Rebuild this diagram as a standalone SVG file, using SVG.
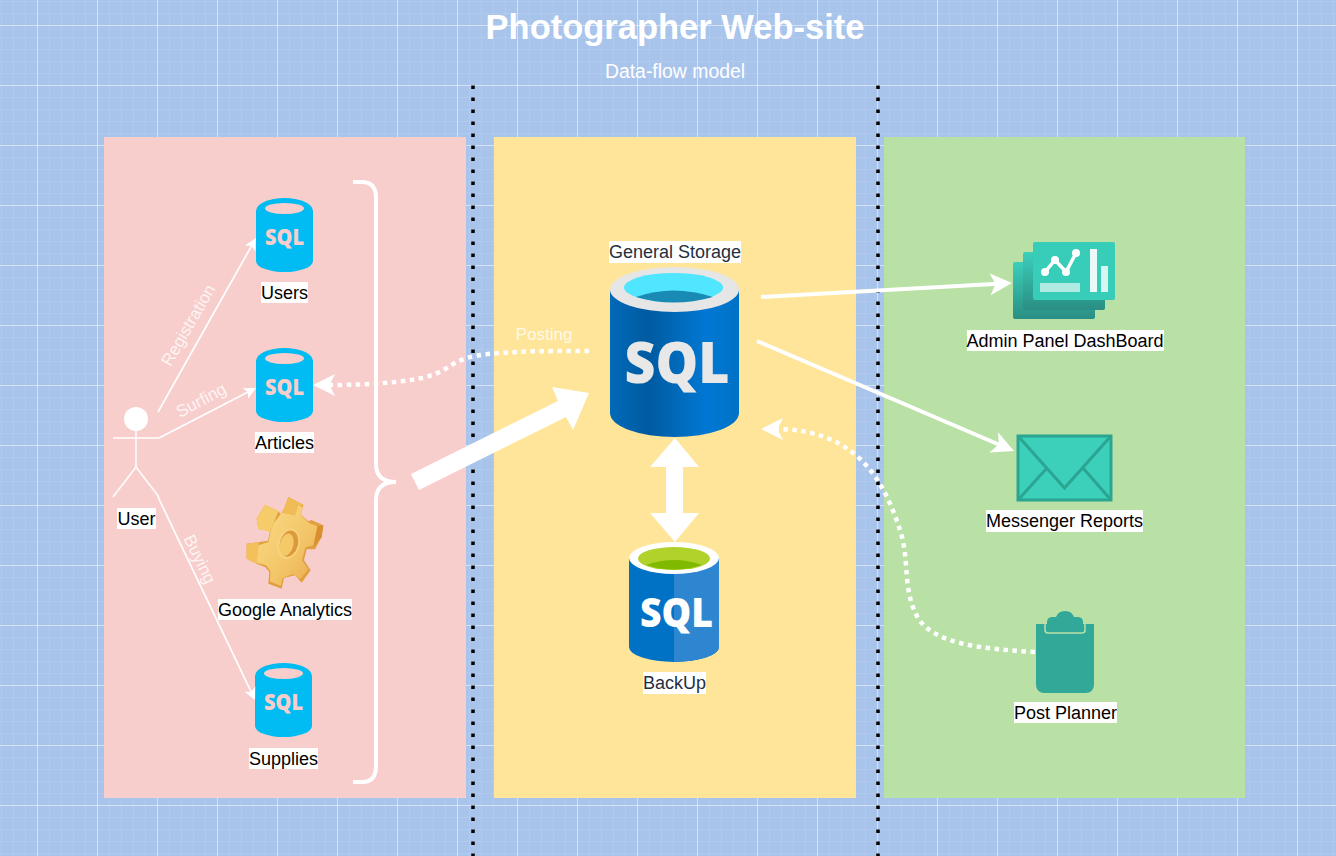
<svg xmlns="http://www.w3.org/2000/svg" xmlns:xlink="http://www.w3.org/1999/xlink" width="1336" height="856" viewBox="0 0 1336 856">
<style>
text{font-family:"Liberation Sans",Arial,sans-serif}
.lbl{font-size:18px;text-anchor:middle;fill:#000}
.dk{fill:#232F3E}
.bg{fill:#fff}
.flow{font-size:17px;text-anchor:middle;fill:#fff;fill-opacity:.8}
.sql{font-family:"Open Sans",sans-serif;font-weight:800;text-anchor:middle}
.thin{fill:none;stroke:#fff;stroke-width:1.700}
.thick{fill:none;stroke:#fff;stroke-width:4}
.dot{stroke-width:4.500;stroke-dasharray:4.500 4.500}
.sep{fill:none;stroke:#000;stroke-width:3.500;stroke-dasharray:3.500 8.500}
</style>
<defs>
<pattern id="grid" x="37" y="25" width="60" height="60" patternUnits="userSpaceOnUse">
<g fill="#fff" fill-opacity=".09">
<rect x="12" width="1" height="60"/><rect x="24" width="1" height="60"/><rect x="36" width="1" height="60"/><rect x="48" width="1" height="60"/>
<rect y="12" width="60" height="1"/><rect y="24" width="60" height="1"/><rect y="36" width="60" height="1"/><rect y="48" width="60" height="1"/>
</g>
<g fill="#fff" fill-opacity=".5"><rect width="1" height="60"/><rect width="60" height="1"/></g>
</pattern>
<marker id="head" markerUnits="userSpaceOnUse" markerWidth="24" markerHeight="24" refX="8" refY="12" orient="auto" overflow="visible">
<path d="M22 12 L0 1 L5.500 12 L0 23 Z" fill="#fff"/>
</marker>
<marker id="headThin" markerUnits="userSpaceOnUse" markerWidth="14" markerHeight="14" refX="8" refY="7" orient="auto" overflow="visible">
<path d="M12 7 L0 1 L3 7 L0 13 Z" fill="#fff"/>
</marker>
<linearGradient id="bigBody" x1="0" x2="1" y1="0" y2="0">
<stop offset="0" stop-color="#0069B8"/><stop offset=".3" stop-color="#005BA1"/><stop offset=".75" stop-color="#0078D4"/><stop offset="1" stop-color="#0072C6"/>
</linearGradient>
<linearGradient id="dashGrad" x1="0" x2="0" y1="0" y2="1">
<stop offset="0" stop-color="#3CCFBA"/><stop offset="1" stop-color="#2A8E84"/>
</linearGradient>
<linearGradient id="gearFace" x1="0" x2="1" y1="0" y2="1">
<stop offset="0" stop-color="#FBDC85"/><stop offset=".6" stop-color="#F3C568"/><stop offset="1" stop-color="#E7A94C"/>
</linearGradient>
<g id="smallDb">
<path d="M0 13 V63 A28.500 11 0 0 0 57 63 V13 Z" fill="#00BCF2"/>
<ellipse cx="28.500" cy="13" rx="28.500" ry="13" fill="#00BCF2"/>
<ellipse cx="28.500" cy="10.500" rx="19.500" ry="5.500" fill="#F8CECC"/>
<text class="sql" x="28.500" y="47" font-size="22" fill="#F8CECC" textLength="39" lengthAdjust="spacingAndGlyphs">SQL</text>
</g>
</defs>

<rect id="background" width="1336" height="856" fill="#A9C4EB"/>
<rect id="gridLines" width="1336" height="856" fill="url(#grid)"/>

<g id="panels">
<rect x="104" y="137" width="362" height="661" fill="#F8CECC"/>
<rect x="494" y="137" width="362" height="661" fill="#FFE599"/>
<rect x="884" y="137" width="361" height="661" fill="#B9E0A5"/>
</g>

<g id="separators">
<line class="sep" x1="473" y1="85.500" x2="473" y2="856"/>
<line class="sep" x1="878" y1="85.500" x2="878" y2="856"/>
</g>

<g id="titles">
<text x="675" y="39" font-size="34.500" font-weight="700" fill="#fff" text-anchor="middle">Photographer Web-site</text>
<text x="675" y="78" font-size="19.400" fill="#fff" text-anchor="middle">Data-flow model</text>
</g>

<g id="node-user">
<circle cx="136" cy="419" r="12" fill="#fff"/>
<path d="M136 431 V467 M113 438 H159 M113 497 L136 467 L159 497" fill="none" stroke="#fff" stroke-width="1.500"/>
<rect class="bg" x="117" y="508" width="39" height="21"/>
<text class="lbl" x="136.500" y="525">User</text>
</g>

<g id="node-users">
<use xlink:href="#smallDb" href="#smallDb" x="256" y="198"/>
<rect class="bg" x="261" y="282" width="47" height="21"/>
<text class="lbl" x="284.500" y="299">Users</text>
</g>

<g id="node-articles">
<use xlink:href="#smallDb" href="#smallDb" x="256" y="348"/>
<rect class="bg" x="255" y="432" width="59" height="21"/>
<text class="lbl" x="284.500" y="449">Articles</text>
</g>

<g id="node-analytics">
<g transform="translate(240,492) scale(.3333)">
<polygon points="75,38 115,58 122,66 132,50 145,15 190,38 183,68 205,88 214,84 250,100 245,135 225,172 200,172 192,205 212,235 185,272 165,250 132,258 125,290 85,275 88,240 76,226 50,215 20,200 20,155 58,150 84,146 90,118 55,110 50,80" fill="#E0A040"/>
<polygon points="75,38 115,58 100,95 90,120 55,110 50,80" fill="#F6CC6A"/>
<polygon points="145,15 190,38 175,45 165,70 125,62 132,50" fill="#F0BC55"/>
<polygon points="20,155 58,150 55,160 50,215 20,200" fill="#F3C05A"/>
<polygon points="232,103 250,100 245,135 220,165" fill="#D98F30"/>
<polygon points="100,95 125,62 165,70 175,40 188,45 183,70 208,94 232,103 220,160 196,166 186,205 205,232 180,262 160,246 128,258 122,282 90,268 92,238 78,220 50,212 55,160 85,150 92,118" fill="url(#gearFace)"/>
<ellipse cx="145" cy="155" rx="34" ry="47" fill="#F7D27C" transform="rotate(14 145 155)"/>
<ellipse cx="147" cy="155" rx="27" ry="40" fill="#DD9A3A" transform="rotate(14 147 155)"/>
<ellipse cx="140" cy="158" rx="20" ry="34" fill="#F5C868" transform="rotate(14 140 158)"/>
</g>
<rect class="bg" x="218" y="599" width="134" height="21"/>
<text class="lbl" x="285" y="616">Google Analytics</text>
</g>

<g id="node-supplies">
<use xlink:href="#smallDb" href="#smallDb" x="255" y="663"/>
<rect class="bg" x="249" y="748" width="69" height="21"/>
<text class="lbl" x="283.500" y="765">Supplies</text>
</g>

<g id="node-general-storage">
<rect class="bg" x="609" y="241" width="132" height="22"/>
<text class="lbl dk" x="675" y="258">General Storage</text>
<path d="M610 290 V413 A64.500 24 0 0 0 739 413 V290 Z" fill="url(#bigBody)"/>
<ellipse cx="674.500" cy="289.500" rx="64.500" ry="22.500" fill="#E6E6E6"/>
<ellipse cx="673.500" cy="287.500" rx="49.500" ry="14.500" fill="#50E6FF"/>
<path d="M636 297 Q673 284 713 297 Q673 308 636 297 Z" fill="#198AB3"/>
<text class="sql" x="677" y="383" font-size="57" fill="#E8E8E8" textLength="105" lengthAdjust="spacingAndGlyphs">SQL</text>
</g>

<g id="node-backup">
<path d="M629 558 V647 A45 15 0 0 0 719 647 V558 Z" fill="#0072C6"/>
<path d="M674 574 A45 16 0 0 0 719 558 V647 A45 15 0 0 1 674 662 Z" fill="#2E86D0"/>
<ellipse cx="674" cy="558" rx="45" ry="16" fill="#fff"/>
<ellipse cx="674" cy="558.500" rx="36" ry="11.500" fill="#B0D22A"/>
<path d="M646 565 Q674 555 702 565 Q674 574 646 565 Z" fill="#7FBA00"/>
<text class="sql" x="676.500" y="627" font-size="41" fill="#fff" textLength="73" lengthAdjust="spacingAndGlyphs">SQL</text>
<rect class="bg" x="643" y="672" width="63" height="22"/>
<text class="lbl dk" x="674.500" y="689">BackUp</text>
</g>

<g id="node-dashboard">
<rect x="1013" y="262" width="82" height="57" rx="2" fill="url(#dashGrad)"/>
<rect x="1023" y="252" width="82" height="58" rx="2" fill="url(#dashGrad)"/>
<rect x="1033" y="242" width="82" height="58" rx="2" fill="#37CDB8"/>
<polyline points="1045,272 1055,260 1066,272 1076,253" fill="none" stroke="#fff" stroke-width="3.500"/>
<g fill="#fff"><circle cx="1045" cy="272" r="4"/><circle cx="1055" cy="260" r="4"/><circle cx="1066" cy="272" r="4"/><circle cx="1076" cy="253" r="4"/></g>
<rect x="1040" y="283" width="40" height="9" fill="#fff" fill-opacity=".6"/>
<rect x="1090" y="249" width="7" height="43" fill="#fff" fill-opacity=".9"/>
<rect x="1101" y="266" width="7" height="26" fill="#fff" fill-opacity=".8"/>
<rect class="bg" x="967" y="330" width="197" height="21"/>
<text class="lbl" x="1065" y="347">Admin Panel DashBoard</text>
</g>

<g id="node-messenger">
<rect x="1018" y="436" width="93" height="64" fill="#3CCFBA" stroke="#2AA591" stroke-width="3"/>
<path d="M1018 436 L1064.500 488 L1111 436 M1018 500 L1047 468 M1111 500 L1083 468" fill="none" stroke="#2AA591" stroke-width="3"/>
<rect class="bg" x="986" y="510" width="157" height="22"/>
<text class="lbl" x="1064.500" y="527">Messenger Reports</text>
</g>

<g id="node-planner">
<path d="M1036 624 H1094 V685 A8 8 0 0 1 1086 693 H1044 A8 8 0 0 1 1036 685 Z" fill="#32A898"/>
<path d="M1045 624 V630 A3 3 0 0 0 1048 633 H1082 A3 3 0 0 0 1085 630 V624" fill="none" stroke="#B9E0A5" stroke-width="1.500"/>
<path d="M1047 631 V622 Q1047 617 1053 617 H1056 Q1058 611 1065 611 Q1072 611 1074 617 H1077 Q1083 617 1083 622 V631 Z" fill="#32A898"/>
<rect class="bg" x="1014" y="702" width="103" height="21"/>
<text class="lbl" x="1065.500" y="719">Post Planner</text>
</g>

<g id="connectors">
<line class="thin" x1="158" y1="412" x2="254" y2="241.500" marker-end="url(#headThin)"/>
<line class="thin" x1="159" y1="438" x2="252.400" y2="389.800" marker-end="url(#headThin)"/>
<line class="thin" x1="158" y1="497" x2="253.300" y2="696.400" marker-end="url(#headThin)"/>
<path class="thick" d="M353 182 H362 Q376 182 376 198 V464 Q376 482 396 482 Q376 482 376 500 V766 Q376 782 362 782 H353"/>
<polygon points="411,474 558,401 552,387 589,393 573,430 566,417 419,490" fill="#fff"/>
<polygon points="675,438 699,467 683,467 683,513 699,513 675,542 650,513 666,513 666,467 650,467" fill="#fff"/>
<path class="thick dot" d="M589 351 C540 351 490 351 467 358 C448 364 447 372 422 378 C392 384 355 385 327 385" marker-end="url(#head)"/>
<line class="thick" x1="761" y1="297" x2="998" y2="283.800" marker-end="url(#head)"/>
<line class="thick" x1="757" y1="341" x2="1001.100" y2="445.500" marker-end="url(#head)"/>
<path class="thick dot" d="M1035 652 C985 649 935 645 918 618 C902 590 910 560 900 530 C885 485 860 429 775 429" marker-end="url(#head)"/>
<text class="flow" transform="translate(188,325) rotate(-60)" y="6">Registration</text>
<text class="flow" transform="translate(201,400) rotate(-28)" y="6">Surfing</text>
<text class="flow" transform="translate(200,559) rotate(64)" y="6">Buying</text>
<text class="flow" x="544" y="340">Posting</text>
</g>
</svg>
